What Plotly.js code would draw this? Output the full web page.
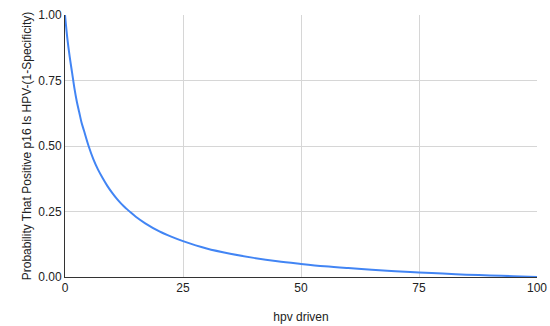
<!DOCTYPE html>
<html>
<head>
<meta charset="utf-8">
<script src="https://cdn.plot.ly/plotly-3.0.1.min.js"></script>
<style>
  html, body { margin: 0; padding: 0; background: #fff; }
  #chart { width: 550px; height: 326px; }
</style>
</head>
<body>
<div id="chart"></div>
<script>
// x: share of cases that are hpv driven (%)
var hpvDriven = [0, 0.5, 1, 1.5, 2, 2.5, 3, 3.5, 4, 5, 6, 7, 8, 9, 10, 11, 12, 13, 14, 15,
                 17, 20, 22.5, 25, 30, 35, 40, 45, 50, 55, 60, 65, 70, 75, 80, 85, 90, 95, 100];
// y: probability that a positive p16 is HPV-
var probHpvNeg = [1.00, 0.91, 0.84, 0.78, 0.72, 0.67, 0.63, 0.59, 0.56, 0.50, 0.45, 0.41,
                  0.377, 0.347, 0.321, 0.298, 0.278, 0.261, 0.245, 0.230, 0.205, 0.174,
                  0.154, 0.137, 0.109, 0.089, 0.073, 0.060, 0.050, 0.041, 0.034, 0.028,
                  0.022, 0.017, 0.013, 0.009, 0.006, 0.003, 0.00];

var xTicks = [0, 25, 50, 75, 100];
var yTicks = [0, 0.25, 0.5, 0.75, 1];

var trace = {
    x: hpvDriven,
    y: probHpvNeg,
    type: 'scatter',
    mode: 'lines',
    line: { color: '#4285f4', width: 2, shape: 'spline', smoothing: 1 },
    hoverinfo: 'x+y'
};

var layout = {
    width: 550,
    height: 326,
    margin: { l: 65, r: 13, t: 15, b: 49 },
    paper_bgcolor: '#fff',
    plot_bgcolor: '#fff',
    showlegend: false,
    font: { family: 'Liberation Sans, Arial, sans-serif', size: 12, color: '#222' },
    xaxis: {
        range: [0, 100],
        tickvals: xTicks,
        ticktext: xTicks.map(String),
        showgrid: true,
        gridcolor: '#d6d6d6',
        zeroline: false,
        showline: true,
        linecolor: '#333',
        linewidth: 1,
        ticks: '',
        tickfont: { size: 12, color: '#222' },
        title: { text: 'hpv driven', font: { size: 12, color: '#222' }, standoff: 18 }
    },
    yaxis: {
        range: [0, 1],
        tickvals: yTicks,
        ticktext: yTicks.map(function (v) { return v.toFixed(2); }),
        showgrid: true,
        gridcolor: '#d6d6d6',
        zeroline: false,
        showline: true,
        linecolor: '#333',
        linewidth: 1,
        ticks: '',
        tickfont: { size: 12, color: '#222' },
        title: { text: 'Probability That Positive p16 Is HPV-(1-Specificity)', font: { size: 12, color: '#222' } }
    }
};

Plotly.newPlot('chart', [trace], layout, { displayModeBar: false, staticPlot: true });
</script>
</body>
</html>
